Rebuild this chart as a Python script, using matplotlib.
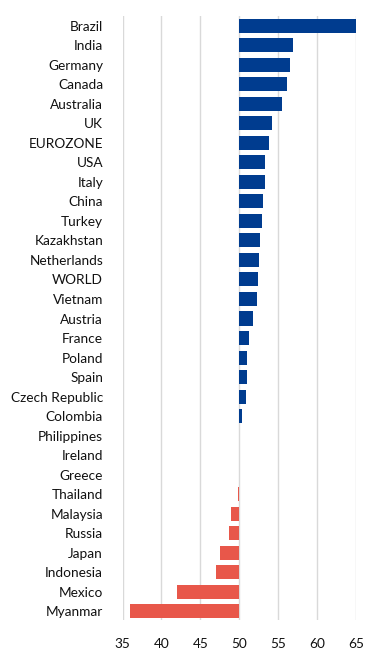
import matplotlib.pyplot as plt

countries = ["Brazil", "India", "Germany", "Canada", "Australia", "UK", "EUROZONE",
             "USA", "Italy", "China", "Turkey", "Kazakhstan", "Netherlands", "WORLD",
             "Vietnam", "Austria", "France", "Poland", "Spain", "Czech Republic",
             "Colombia", "Philippines", "Ireland", "Greece", "Thailand", "Malaysia",
             "Russia", "Japan", "Indonesia", "Mexico", "Myanmar"]
values = [65.0, 56.9, 56.5, 56.1, 55.5, 54.2, 53.8,
          53.3, 53.3, 53.0, 52.9, 52.6, 52.5, 52.4,
          52.3, 51.8, 51.2, 51.0, 51.0, 50.9,
          50.3, 50.0, 50.0, 50.0, 49.8, 48.9,
          48.7, 47.5, 47.0, 42.0, 35.9]
baseline = 50
ticks = [35, 40, 45, 50, 55, 60, 65]

plt.rcParams['font.family'] = ['Lato', 'DejaVu Sans']

fig = plt.figure(figsize=(3.77, 6.66), dpi=100)
ax = fig.add_axes([0.325, 0.069, 0.62, 0.907])

n = len(countries)
pos = [n - 1 - i for i in range(n)]
colors = ['#003c8f' if v >= baseline else '#e8574a' for v in values]
ax.barh(pos, [v - baseline for v in values], left=baseline, height=0.72,
        color=colors, zorder=3)

ax.set_xlim(35, 65)
ax.set_ylim(-0.45, n - 0.5)
ax.set_xticks(ticks)
ax.set_yticks(pos)
ax.set_yticklabels(countries)
ax.xaxis.grid(True, color='#d9d9d9', linewidth=1, zorder=0)
ax.tick_params(axis='both', length=0, labelsize=9.8, colors='#111111')
ax.tick_params(axis='y', pad=14)
ax.tick_params(axis='x', pad=13)
for s in ax.spines.values():
    s.set_visible(False)

plt.savefig('out.png', dpi=100)
